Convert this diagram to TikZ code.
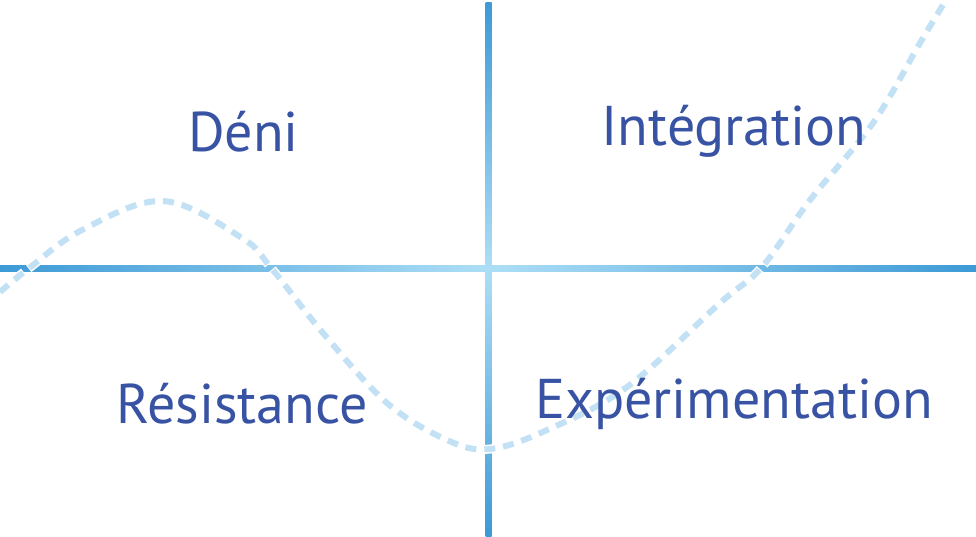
\documentclass[tikz,border=0pt]{standalone}
\usepackage{fontspec}
\setmainfont{PT Sans}
\definecolor{axisdark}{HTML}{3D9AD6}
\definecolor{axislight}{HTML}{ADDEF6}
\definecolor{labelblue}{HTML}{3953A4}
\definecolor{curveblue}{HTML}{C2E1F5}
\begin{document}
\begin{tikzpicture}[x=1pt,y=-1pt,
  quadlabel/.style={inner sep=0pt,anchor=base,text=labelblue,font=\fontsize{56}{64}\selectfont},
  curvewhite/.style={line width=9pt,white,dash pattern=on 13pt off 6pt,dash phase=1pt},
  curvedash/.style={line width=6pt,curveblue,dash pattern=on 11pt off 8pt}]
\useasboundingbox (0,0) rectangle (976,536);
\fill[white] (0,0) rectangle (976,536);
% axes with gradient
\shade[left color=axisdark,right color=axislight] (0,265.5) rectangle (488.5,271.5);
\shade[left color=axislight,right color=axisdark] (488.5,265.5) rectangle (976,271.5);
\shade[top color=axisdark,bottom color=axislight] (485.5,2) rectangle (491.5,268.5);
\shade[top color=axislight,bottom color=axisdark] (485.5,268.5) rectangle (491.5,536);
% curve
\def\curvepath{plot[smooth,tension=0.6] coordinates {(0,292) (28,269) (82,230) (163,201) (242,238) (272,269) (323,333) (387,403) (447,440) (490,449) (547,430) (627,387) (720,303) (762,267) (810,200) (873,123) (920,43) (946,0)}}
\draw[curvewhite] \curvepath;
\draw[curvedash] \curvepath;
% labels
\node[quadlabel] (deni) at (243.5,151) {Déni};
\node[quadlabel] (integ) at (734,145) {Intégration};
\node[quadlabel] (resist) at (242,423) {Résistance};
\node[quadlabel] (exper) at (734,418) {Expérimentation};
\end{tikzpicture}
\end{document}
